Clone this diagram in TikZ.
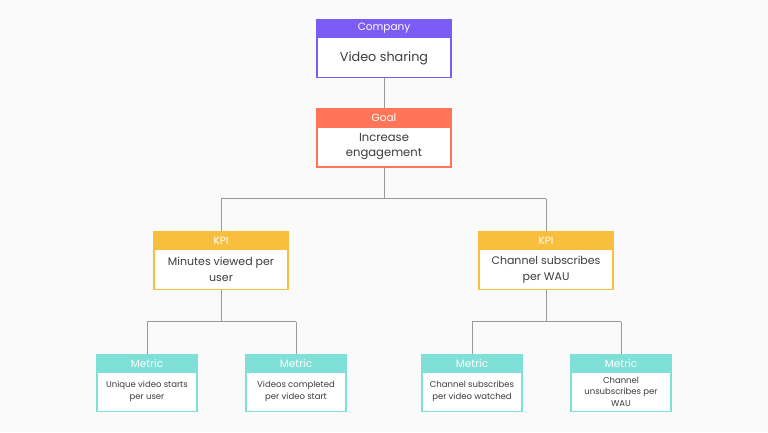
\documentclass[tikz,border=0pt]{standalone}
\usepackage{fontspec}
\setmainfont{Poppins}
\definecolor{bg}{HTML}{FAFAFA}
\definecolor{cpurple}{HTML}{7B5CF5}
\definecolor{ccoral}{HTML}{FF7557}
\definecolor{cyellow}{HTML}{F8BE3D}
\definecolor{cteal}{HTML}{7EE0D6}
\definecolor{cline}{HTML}{9A9A9A}
\definecolor{ctext}{HTML}{3C3C3C}
\tikzset{
  box/.style={draw=#1, line width=1.4pt, fill=white, inner sep=0pt, text=ctext, align=center},
  bigbox/.style={box=#1, minimum width=134pt, minimum height=58pt},
  smallbox/.style={box=#1, minimum width=100pt, minimum height=57pt},
  head/.style={fill=#1, draw=#1, line width=1.4pt, inner sep=0pt, text=white, minimum height=18pt, anchor=north, font=\fontsize{10.5}{13}\selectfont},
  bodytext/.style={text=ctext, align=center, inner sep=0pt},
  conn/.style={draw=cline, line width=1pt},
}
\begin{document}
\begin{tikzpicture}[x=1pt,y=-1pt]
\fill[bg] (0,0) rectangle (768,432);
\useasboundingbox (0,0) rectangle (768,432);

\coordinate (j1) at (384,198.5);
\coordinate (j1l) at (221,198.5);
\coordinate (j1r) at (546,198.5);
\coordinate (j2l) at (147,321.5);
\coordinate (j2r) at (296,321.5);
\coordinate (j3l) at (472,321.5);
\coordinate (j3r) at (621,321.5);

\node[bigbox=cpurple] (company) at (384,48.5) {};
\node[head=cpurple, minimum width=134pt] (companyh) at (company.north) {Company};
\node[bodytext, font=\fontsize{12.8}{16}\selectfont] (companyt) at (384,58) {Video sharing};

\node[bigbox=ccoral] (goal) at (384,138) {};
\node[head=ccoral, minimum width=134pt] (goalh) at (goal.north) {Goal};
\node[bodytext, font=\fontsize{11.6}{15}\selectfont] (goalt) at (384,147) {Increase\\engagement};

\node[bigbox=cyellow] (kpi1) at (221,260.5) {};
\node[head=cyellow, minimum width=134pt] (kpi1h) at (kpi1.north) {KPI};
\node[bodytext, font=\fontsize{11}{15.5}\selectfont] (kpi1t) at (221,269.5) {Minutes viewed per\\user};

\node[bigbox=cyellow] (kpi2) at (546,260.5) {};
\node[head=cyellow, minimum width=134pt] (kpi2h) at (kpi2.north) {KPI};
\node[bodytext, font=\fontsize{11}{15.5}\selectfont] (kpi2t) at (546,269.5) {Channel subscribes\\per WAU};

\node[smallbox=cteal] (m1) at (147,383) {};
\node[head=cteal, minimum width=100pt] (m1h) at (m1.north) {Metric};
\node[bodytext, font=\fontsize{8.5}{11.5}\selectfont] (m1t) at (147,391.5) {Unique video starts\\per user};

\node[smallbox=cteal] (m2) at (296,383) {};
\node[head=cteal, minimum width=100pt] (m2h) at (m2.north) {Metric};
\node[bodytext, font=\fontsize{8.5}{11.5}\selectfont] (m2t) at (296,391.5) {Videos completed\\per video start};

\node[smallbox=cteal] (m3) at (472,383) {};
\node[head=cteal, minimum width=100pt] (m3h) at (m3.north) {Metric};
\node[bodytext, font=\fontsize{8.5}{11.5}\selectfont] (m3t) at (472,391.5) {Channel subscribes\\per video watched};

\node[smallbox=cteal] (m4) at (621,383) {};
\node[head=cteal, minimum width=100pt] (m4h) at (m4.north) {Metric};
\node[bodytext, font=\fontsize{8.5}{11.5}\selectfont] (m4t) at (621,391.5) {Channel\\unsubscribes per\\WAU};

\draw[conn] (company.south) -- (goalh.north);
\draw[conn] (goal.south) -- (j1);
\draw[conn] (j1l) -- (j1r);
\draw[conn] (j1l) -- (kpi1h.north);
\draw[conn] (j1r) -- (kpi2h.north);
\draw[conn] (kpi1.south) -- (kpi1.south |- j2l);
\draw[conn] (j2l) -- (j2r);
\draw[conn] (j2l) -- (m1h.north);
\draw[conn] (j2r) -- (m2h.north);
\draw[conn] (kpi2.south) -- (kpi2.south |- j3l);
\draw[conn] (j3l) -- (j3r);
\draw[conn] (j3l) -- (m3h.north);
\draw[conn] (j3r) -- (m4h.north);
\end{tikzpicture}
\end{document}
